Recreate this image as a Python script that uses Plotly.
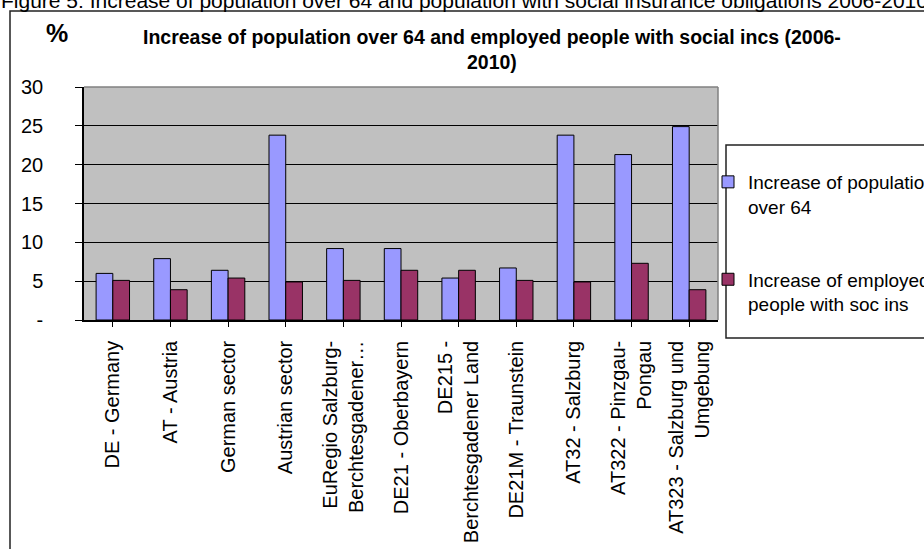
import plotly.graph_objects as go

# Regions compared (2006-2010)
regions = [
    "DE - Germany",
    "AT - Austria",
    "German sector",
    "Austrian sector",
    "EuRegio Salzburg-<br>Berchtesgadener…",
    "DE21 - Oberbayern",
    "DE215 -<br>Berchtesgadener Land",
    "DE21M - Traunstein",
    "AT32 - Salzburg",
    "AT322 - Pinzgau-<br>Pongau",
    "AT323 - Salzburg und<br>Umgebung",
]

# Percentage increase, 2006-2010
pop_over_64 = [6.0, 7.9, 6.4, 23.8, 9.2, 9.2, 5.4, 6.7, 23.8, 21.3, 24.9]
employed_soc_ins = [5.1, 3.9, 5.4, 4.9, 5.1, 6.4, 6.4, 5.1, 4.9, 7.3, 3.9]

y_tickvals = [0, 5, 10, 15, 20, 25, 30]
y_ticktext = ["-", "5", "10", "15", "20", "25", "30"]

series_names = ["Increase of population<br>over 64", "Increase of employed<br>people with soc ins"]
series_colors = ["#9999FF", "#993366"]

FONT = "Liberation Sans, Arial, sans-serif"

W, H = 924, 549
L, R, T, B = 84, 206, 87, 229
PW, PH = W - L - R, H - T - B


def px_x(x):
    return (x - L) / PW


def px_y(y):
    return (H - B - y) / PH


fig = go.Figure()
for name, vals, col in zip(series_names, [pop_over_64, employed_soc_ins], series_colors):
    fig.add_trace(go.Bar(
        x=list(range(len(regions))),
        y=vals,
        name=name,
        legendgroup=name,
        marker=dict(color=col, line=dict(color="black", width=1)),
        hoverinfo="x+y",
    ))

fig.update_layout(
    width=W, height=H,
    margin=dict(l=L, r=R, t=T, b=B, autoexpand=False),
    paper_bgcolor="white",
    plot_bgcolor="#C0C0C0",
    barmode="group",
    bargap=0.42,
    bargroupgap=0,
    font=dict(family=FONT, color="black", size=19),
    showlegend=True,
    legend=dict(
        x=px_x(708), y=px_y(163), xanchor="left", yanchor="top",
        bgcolor="rgba(0,0,0,0)", borderwidth=0,
        font=dict(family=FONT, size=19, color="black"),
        traceorder="grouped", tracegroupgap=45, valign="top",
    ),
)

fig.update_xaxes(
    tickmode="array",
    tickvals=list(range(len(regions))),
    ticktext=regions,
    tickangle=-90,
    tickfont=dict(family=FONT, size=20, color="black"),
    showline=True, linecolor="black", linewidth=1.5,
    ticks="outside", tickson="boundaries", ticklen=5, tickcolor="black", tickwidth=1,
    ticklabelstandoff=6,
    showgrid=False, zeroline=False,
    range=[-0.5, len(regions) - 0.5],
    fixedrange=True,
)

fig.update_yaxes(
    range=[0, 30],
    tickmode="array",
    tickvals=y_tickvals,
    ticktext=y_ticktext,
    tickfont=dict(family=FONT, size=20, color="black"),
    showline=True, linecolor="black", linewidth=1.5,
    ticks="outside", ticklen=7, tickcolor="black", tickwidth=1,
    ticklabelstandoff=28,
    showgrid=True, gridcolor="black", gridwidth=1,
    zeroline=False,
    fixedrange=True,
)

shapes = [
    # top and right edges of the plot area
    dict(type="line", xref="paper", yref="paper", x0=0, x1=1, y0=1, y1=1,
         line=dict(color="#808080", width=1.5), layer="above"),
    dict(type="line", xref="paper", yref="paper", x0=1, x1=1, y0=0, y1=1,
         line=dict(color="#808080", width=1.5), layer="above"),
    # chart frame
    dict(type="rect", xref="paper", yref="paper",
         x0=px_x(10), x1=px_x(1000), y0=px_y(620), y1=px_y(11),
         line=dict(color="#222222", width=1.5), layer="below"),
    # legend frame
    dict(type="rect", xref="paper", yref="paper",
         x0=px_x(726), x1=px_x(1000), y0=px_y(338), y1=px_y(145),
         line=dict(color="#222222", width=1.5), fillcolor="white", layer="below"),
]
fig.update_layout(shapes=shapes)

annotations = [
    dict(text="Figure 5: Increase of population over 64 and population with social insurance obligations 2006-2010",
         xref="paper", yref="paper", x=px_x(-1), y=px_y(0), xanchor="left", yanchor="middle",
         showarrow=False, font=dict(family=FONT, size=21, color="black")),
    dict(text="<b>Increase of population over 64 and employed people with social incs (2006-<br>2010)</b>",
         xref="paper", yref="paper", x=px_x(492), y=px_y(49), xanchor="center", yanchor="middle",
         align="center", showarrow=False, font=dict(family=FONT, size=19.5, color="black")),
    dict(text="<b>%</b>",
         xref="paper", yref="paper", x=px_x(57), y=px_y(33), xanchor="center", yanchor="middle",
         showarrow=False, font=dict(family=FONT, size=25, color="black")),
]
fig.update_layout(annotations=annotations)

fig.write_html("out.html")
